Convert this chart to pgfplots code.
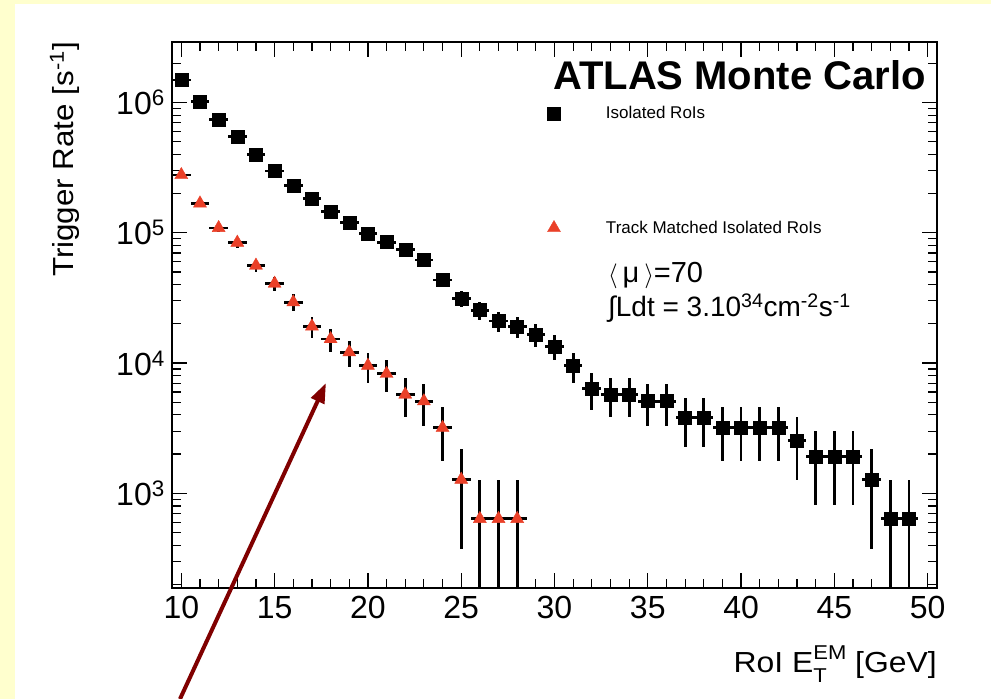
\documentclass[border=0pt]{standalone}
\usepackage{fontspec}
\setmainfont{Liberation Sans}
\usepackage{graphicx}
\usepackage{pgfplots}
\usepackage{pgfplotstable}
\pgfplotsset{compat=1.18}
\usetikzlibrary{arrows.meta}
\definecolor{bgyellow}{RGB}{255,255,206}
\definecolor{mred}{RGB}{234,64,40}
\definecolor{arrowred}{RGB}{128,0,0}
\pgfplotsset{mylegimg/.style={legend image code/.code={\draw[##1] plot coordinates {(0pt,0pt)}; \path[draw=none,fill=none] (-7.5pt,-7.5pt) rectangle (52pt,7.5pt);}}}

\pgfplotstableread{
x y ep em
10 1489943 30807 30807
11 1010282 25368 25368
12 742742 21752 21752
13 547183 18670 18670
14 396851 15900 15900
15 298116 13781 13781
16 229320 12086 12086
17 184093 10829 10829
18 145236 9618 9618
19 119756 8734 8734
20 98735 7931 7931
21 84721 7346 7346
22 74529 6890 6890
23 61789 6274 6274
24 43316 5253 5253
25 31213 4459 4459
26 25480 4029 4029
27 21021 3659 3659
28 19110 3489 3489
29 16562 3248 3248
30 13377 2919 2919
31 9555 2467 2467
32 6370 2014 2014
33 5733 1911 1911
34 5733 1911 1911
35 5096 1802 1802
36 5096 1802 1802
37 3822 1560 1560
38 3822 1560 1560
39 3185 1424 1424
40 3185 1424 1424
41 3185 1424 1424
42 3185 1424 1424
43 2548 1274 1274
44 1911 1103 1103
45 1911 1103 1103
46 1911 1103 1103
47 1274 901 901
48 637 637 636
49 637 637 636
}\blackdata

\pgfplotstableread{
x y ep em
10 277732 13301 13301
11 168168 10350 10350
12 108927 8330 8330
13 84084 7319 7319
14 56056 5976 5976
15 40768 5096 5096
16 29302 4320 4320
17 19110 3489 3489
18 15288 3121 3121
19 12103 2777 2777
20 9555 2467 2467
21 8281 2297 2297
22 5733 1911 1911
23 5096 1802 1802
24 3185 1424 1424
25 1274 901 901
26 637 637 636
27 637 637 636
28 637 637 636
}\reddata

\begin{document}
\begin{tikzpicture}[x=1pt,y=1pt]
\useasboundingbox (0,0) rectangle (991,699);
\fill[bgyellow] (0,0) rectangle (991,699);
\fill[white] (15,0) rectangle (991,695);
\begin{axis}[
  at={(172pt,111pt)}, anchor=south west,
  scale only axis, width=765pt, height=546pt,
  ymode=log, xmin=9.5, xmax=50.5, ymin=187.6, ymax=2.913e6,
  xtick={10,15,...,50}, xticklabels={10,15,20,25,30,35,40,45,50},
  minor x tick num=4,
  ytick={1000,10000,100000,1000000},
  yticklabels={10\textsuperscript{3},10\textsuperscript{4},10\textsuperscript{5},10\textsuperscript{6}},
  minor ytick={200,300,400,500,600,700,800,900,2000,3000,4000,5000,6000,7000,8000,9000,20000,30000,40000,50000,60000,70000,80000,90000,200000,300000,400000,500000,600000,700000,800000,900000,2000000},
  tick align=inside,
  major tick length=15pt, minor tick length=9pt,
  every tick/.style={black, line width=1.2pt},
  axis line style={line width=1.2pt},
  ticklabel style={font=\fontsize{32}{32}\selectfont, inner sep=0pt},
  xticklabel style={yshift=-8pt},
  yticklabel style={xshift=-7pt},
  legend style={at={(0.48954,0.88278)}, anchor=north west, draw=none, fill=none,
    inner sep=0pt, outer sep=0pt, row sep=99.5pt,
    font=\fontsize{17}{17}\selectfont, nodes={inner sep=0pt}},
  legend cell align=left,
]
\addplot[only marks, mark=square*, mark size=6.5pt, mark options={draw=black, fill=black},
  mylegimg,
  error bars/.cd, x dir=both, x fixed=0.5, y dir=both, y explicit, error mark=none,
  error bar style={line width=2.8pt, black}]
  table[x=x, y=y, y error plus=ep, y error minus=em] {\blackdata};
\addlegendentry{Isolated RoIs}
\addplot[only marks, mark=triangle*, mark size=7.5pt, mark options={draw=mred, fill=mred},
  mylegimg,
  error bars/.cd, x dir=both, x fixed=0.5, y dir=both, y explicit, error mark=none,
  error bar style={line width=2.8pt, black}]
  table[x=x, y=y, y error plus=ep, y error minus=em] {\reddata};
\addlegendentry{Track Matched Isolated RoIs}
\end{axis}
\node[anchor=base east, inner sep=0pt, font=\fontsize{40}{40}\selectfont\bfseries] at (926,609) {ATLAS Monte Carlo};
\node[anchor=base west, inner sep=0pt, font=\fontsize{29}{29}\selectfont] at (608,416) {$\langle$\,μ\,$\rangle$=70};
\node[anchor=base west, inner sep=0pt, font=\fontsize{28}{28}\selectfont] at (608,382) {∫Ldt = 3.10\textsuperscript{34}cm\textsuperscript{-2}s\textsuperscript{-1}};
\node[rotate=90, anchor=base east, inner sep=0pt, font=\fontsize{29}{29}\selectfont] at (73,657) {\scalebox{1.08}[1]{Trigger Rate [s\textsuperscript{-1}]}};
\node[anchor=base east, inner sep=0pt, font=\fontsize{29}{29}\selectfont] at (937,26) {\scalebox{1.1}[1]{RoI E\rlap{\raisebox{-10pt}{\fontsize{20}{20}\selectfont T}}\raisebox{13pt}{\fontsize{20}{20}\selectfont EM} [GeV]}};
\draw[arrowred, line width=4pt, -{Triangle[length=20pt, width=14pt]}] (180,0) -- (326,316);
\end{tikzpicture}
\end{document}
